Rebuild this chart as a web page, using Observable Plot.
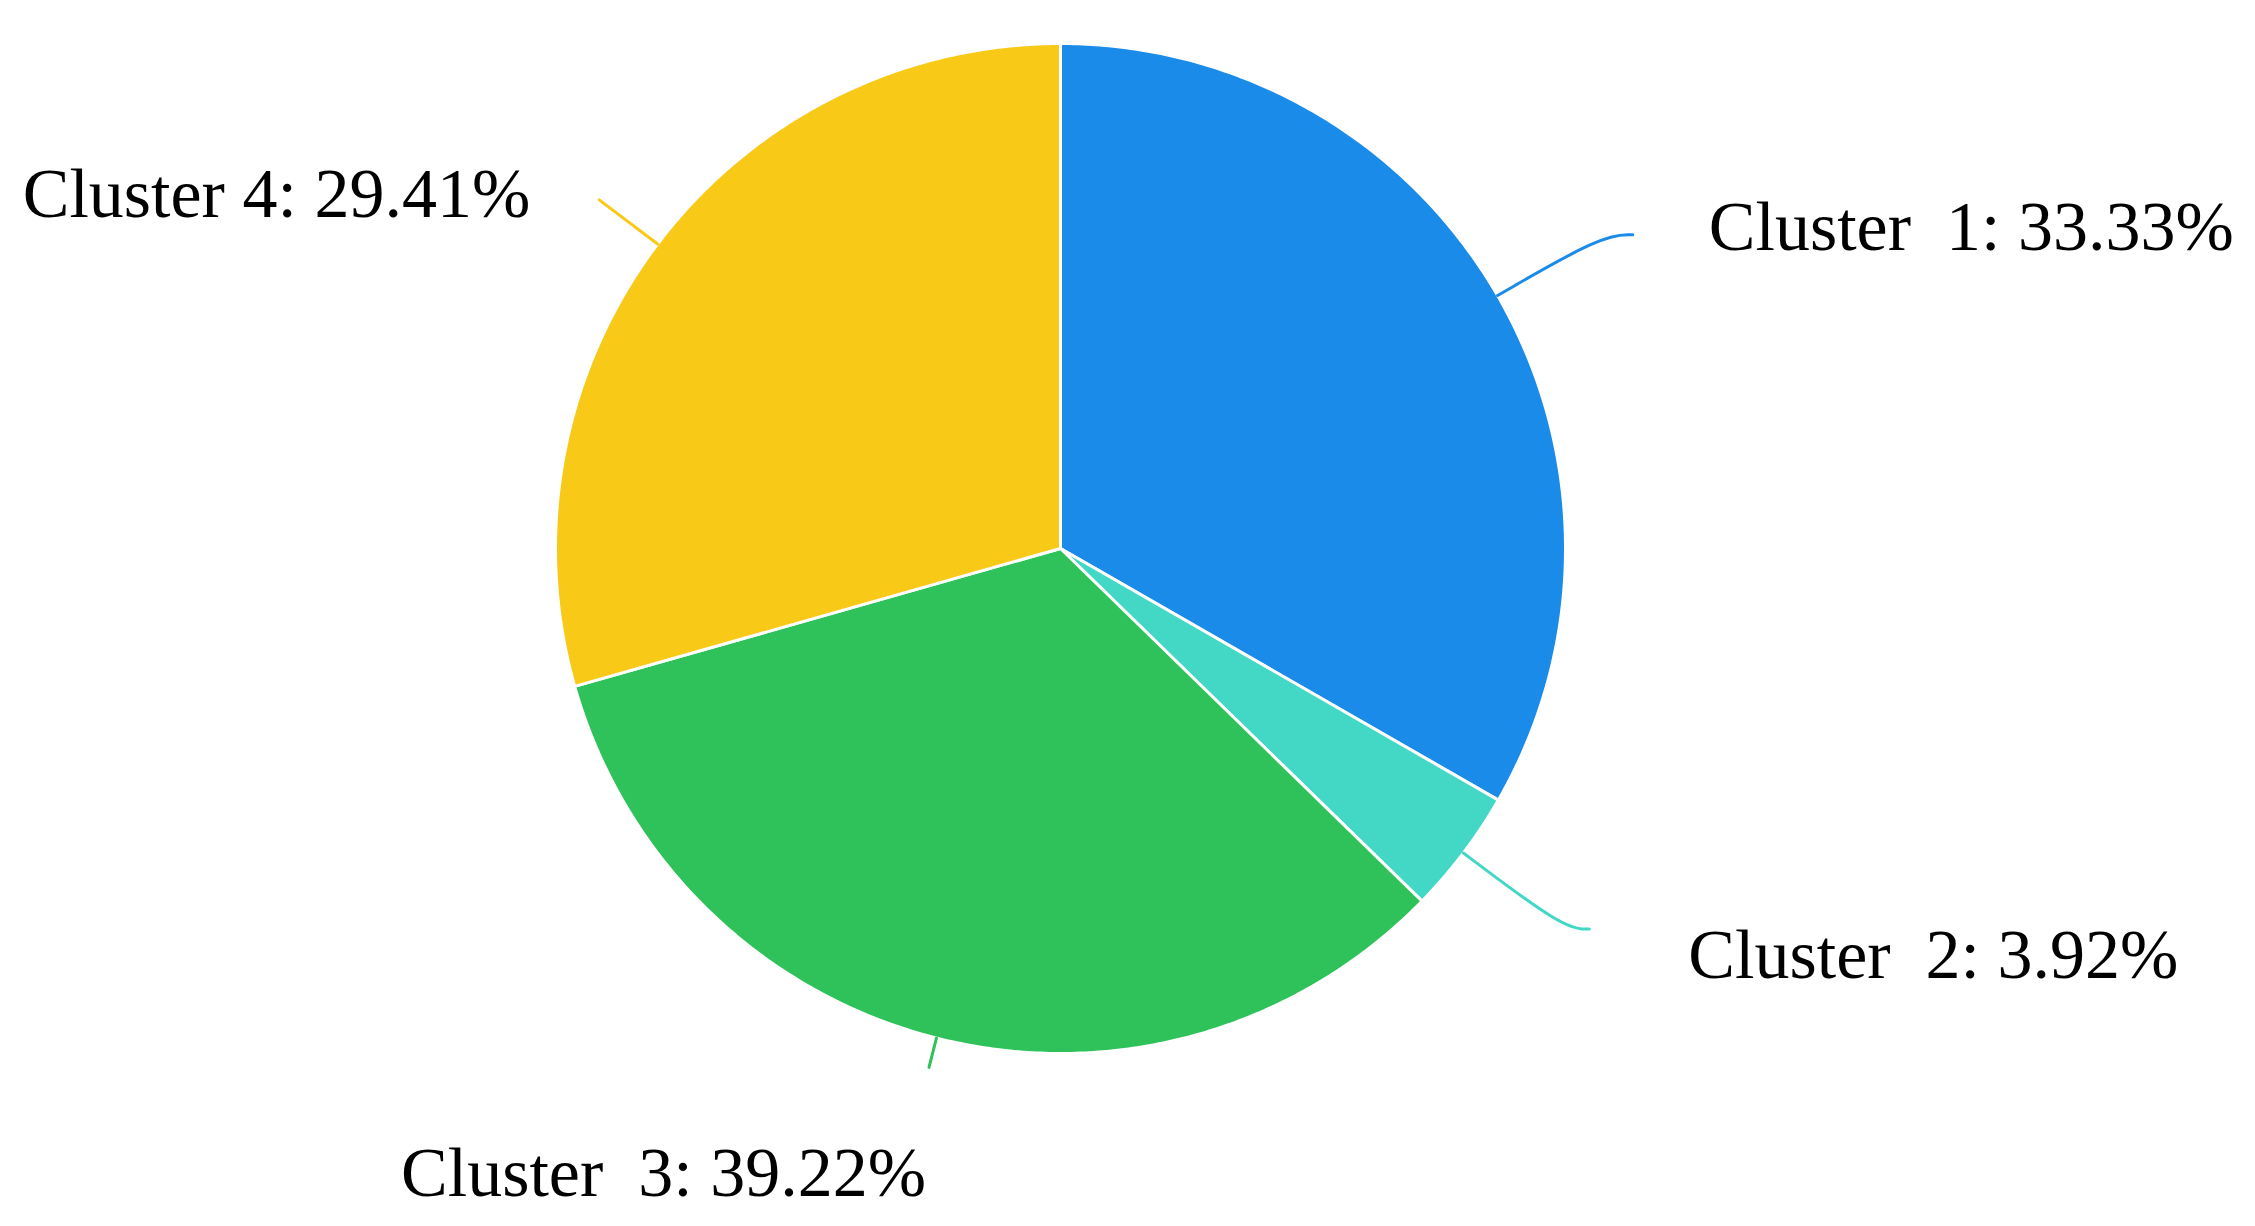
<!DOCTYPE html>
<html>
<head>
<meta charset="utf-8">
<script src="https://cdn.jsdelivr.net/npm/d3@7"></script>
<script src="https://cdn.jsdelivr.net/npm/@observablehq/plot@0.6"></script>
<style>
  html, body { margin: 0; padding: 0; background: #fff; }
  #chart svg text { white-space: pre; }
</style>
</head>
<body>
<div id="chart"></div>
<script>
// ---- data ----
const clusters = ["Cluster  1", "Cluster  2", "Cluster  3", "Cluster 4"];
const labelPercents = ["33.33%", "3.92%", "39.22%", "29.41%"];   // label texts as printed
const sliceShares = [33.3, 4.0, 33.3, 29.4];                        // drawn slice sizes (from slice angles)
const sliceColors = ["#1b8be9", "#43d8c6", "#2fc25b", "#f8c916"];

// ---- layout (not data) ----
const W = 2255, H = 1226;
const cx = 1060, cy = 548, R = 505;        // pie centre & radius in pixels
// leader line: radial extension (len1) and horizontal tail (len2), in radius units;
// label offset from the end of the leader line in pixels
const leaders = [
  {len1: 0.24, len2: 0.06, dx: 76, dy: 15, anchor: "start"},
  {len1: 0.25, len2: 0.05, dx: 99, dy: 49, anchor: "start"},
  {len1: 0.06, len2: 0.00, dx: -3, dy: 129, anchor: "end"},
  {len1: 0.145, len2: 0.00, dx: -69, dy: 17, anchor: "end"}
];

// scales so that one data unit = one radius, centre at (0,0), y up
const xDomain = [-cx / R, (W - cx) / R];
const yDomain = [-(H - cy) / R, cy / R];

const pie = d3.pie().sort(null).value(d => d)(sliceShares);
const pt = (r, a) => ({x: r * Math.sin(a), y: r * Math.cos(a)});

const marks = [];
pie.forEach((p, i) => {
  const pts = [{x: 0, y: 0}];
  const n = Math.max(8, Math.ceil((p.endAngle - p.startAngle) / (Math.PI / 360)));
  for (let k = 0; k <= n; k++) {
    pts.push(pt(1, p.startAngle + (p.endAngle - p.startAngle) * k / n));
  }
  marks.push(Plot.line(pts, {
    x: "x", y: "y", fill: sliceColors[i], stroke: "white", strokeWidth: 3,
    strokeLinejoin: "round", curve: "linear-closed"
  }));
});

const labelRows = [];
pie.forEach((p, i) => {
  const mid = (p.startAngle + p.endAngle) / 2;
  const L = leaders[i];
  const side = Math.sin(mid) >= 0 ? 1 : -1;
  const a = pt(1.0, mid);
  const b = pt(1 + L.len1, mid);
  const c = {x: b.x + side * L.len2, y: b.y};
  const line = L.len2 > 0 ? [a, b, c] : [a, b];
  marks.push(Plot.line(line, {
    x: "x", y: "y", stroke: sliceColors[i], strokeWidth: 3,
    curve: L.len2 > 0 ? "basis" : "linear"
  }));
  labelRows.push({x: c.x, y: c.y, text: clusters[i] + ": " + labelPercents[i],
                  dx: L.dx, dy: L.dy, anchor: L.anchor});
});

labelRows.forEach(r => {
  marks.push(Plot.text([r], {
    x: "x", y: "y", text: "text", dx: r.dx, dy: r.dy,
    textAnchor: r.anchor, lineAnchor: "bottom",
    fill: "#000", fontSize: 70, fontFamily: "Liberation Serif"
  }));
});

const chart = Plot.plot({
  width: W, height: H,
  marginTop: 0, marginRight: 0, marginBottom: 0, marginLeft: 0,
  x: {domain: xDomain, axis: null},
  y: {domain: yDomain, axis: null},
  style: {background: "white", overflow: "visible"},
  marks
});
document.getElementById("chart").appendChild(chart);
</script>
</body>
</html>
